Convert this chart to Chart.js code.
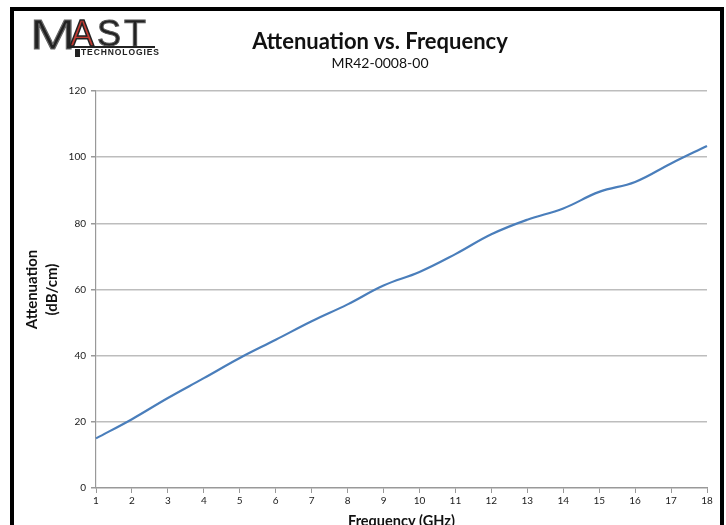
<!DOCTYPE html>
<html>
<head>
<meta charset="utf-8">
<script src="https://cdn.jsdelivr.net/npm/chart.js@4"></script>
<style>
  html, body { margin:0; padding:0; width:726px; height:525px; overflow:hidden; background:#fff; }
  #wrap { position:absolute; left:0; top:0; width:726px; height:545px; }
  #frame { position:absolute; left:10px; top:7px; width:706px; height:600px; border:4px solid #000; pointer-events:none; }
  #title { position:absolute; left:0; width:760px; top:27px; line-height:1; text-align:center; font:bold 22px Lato, sans-serif; color:#111; }
  #subtitle { position:absolute; left:0; width:760px; top:54px; line-height:1; text-align:center; font:14px Lato, sans-serif; color:#111; }
  #logo span { position:absolute; font-family:"Liberation Sans", sans-serif; color:#222; white-space:nowrap; }
  #logo .m { left:30px; top:14px; font-size:42px; line-height:42px; transform:scaleX(1.3); transform-origin:left top; -webkit-text-stroke:1px #666; }
  #logo .ast { left:70px; top:16px; font-size:36px; line-height:36px; letter-spacing:3px; -webkit-text-stroke:1px #555; }
  #logo .a { color:#c23b32; -webkit-text-stroke:1.5px #222; }
  #logo .bar { left:67px; top:46px; width:88px; height:2px; background:#222; }
  #logo .blk { left:75px; top:49px; width:5px; height:8px; background:#222; }
  #logo .tech { left:81px; top:48px; font-size:8.5px; line-height:9px; font-weight:bold; letter-spacing:0.9px; }
</style>
</head>
<body>
<div id="wrap"><canvas id="chart"></canvas></div>
<div id="logo">
  <span class="m">M</span>
  <span class="ast"><span class="a" style="position:static">A</span>ST</span>
  <span class="bar"></span>
  <span class="blk"></span>
  <span class="tech">TECHNOLOGIES</span>
</div>
<div id="title">Attenuation vs. Frequency</div>
<div id="subtitle">MR42-0008-00</div>
<div id="frame"></div>
<script>
// values
const freqs = [1, 2, 3, 4, 5, 6, 7, 8, 9, 10, 11, 12, 13, 14, 15, 16, 17, 18]
const attenuation = [15, 20.8, 27.2, 33.2, 39.3, 44.8, 50.4, 55.5, 61.2, 65.3, 70.7, 76.7, 81.1, 84.5, 89.5, 92.5, 98.1, 103.4]
const yMin = 0
const yMax = 120
const yStep = 20

const tickFont = { family: 'Lato, sans-serif', size: 10 }

new Chart(document.getElementById('chart'), {
  type: 'line',
  data: {
    labels: freqs,
    datasets: [{
      label: 'Attenuation',
      data: attenuation,
      borderColor: '#4a7ebb',
      borderWidth: 2.2,
      pointRadius: 0,
      tension: 0.4,
      fill: false
    }]
  },
  options: {
    responsive: true,
    maintainAspectRatio: false,
    animation: false,
    layout: { padding: { left: 20, right: 19, top: 91, bottom: 0 } },
    plugins: {
      legend: { display: false },
      tooltip: { enabled: false }
    },
    scales: {
      x: {
        offset: false,
        grid: { drawOnChartArea: false, drawTicks: true, tickLength: 5, tickColor: '#999', lineWidth: 1 },
        border: { color: '#999', width: 1.2 },
        ticks: { font: tickFont, color: '#1a1a1a', padding: 2, maxRotation: 0, autoSkip: false },
        title: { display: true, text: 'Frequency (GHz)', color: '#111',
                 font: { family: 'Lato, sans-serif', size: 14.5, weight: 'bold', lineHeight: 1.2 },
                 padding: { top: 0, bottom: 15 } },
        afterFit: (scale) => { scale.height = 57 }
      },
      y: {
        min: yMin,
        max: yMax,
        grid: { color: '#bdbdbd', lineWidth: 1.5, tickLength: 5, tickColor: '#999' },
        border: { color: '#999', width: 1.2 },
        ticks: { stepSize: yStep, font: tickFont, color: '#1a1a1a', padding: 5 },
        title: { display: true, text: ['Attenuation', '(dB/cm)'], color: '#111',
                 font: { family: 'Lato, sans-serif', size: 15, weight: 'bold', lineHeight: 1.33 },
                 padding: { top: 2, bottom: 0 } },
        afterFit: (scale) => { scale.width = 76 }
      }
    }
  }
})
</script>
</body>
</html>
